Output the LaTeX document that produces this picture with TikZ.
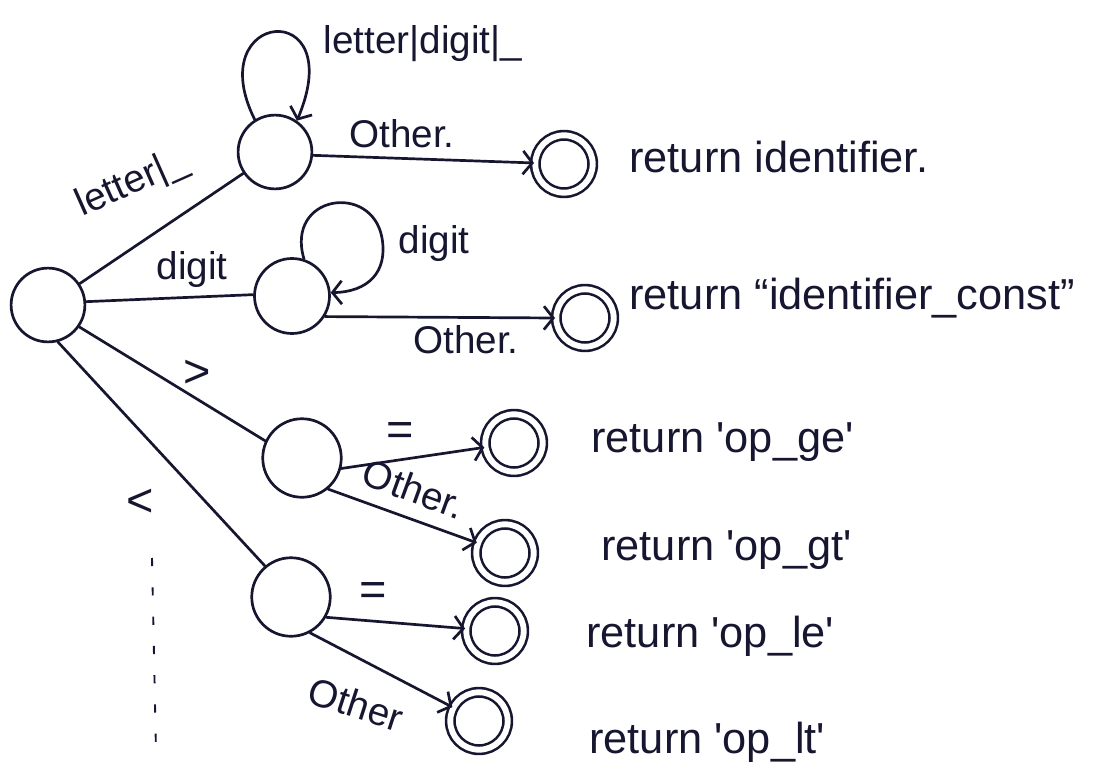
\documentclass[tikz,border=0pt]{standalone}
\usepackage{fontspec}
\setmainfont{Liberation Sans}
\usetikzlibrary{arrows.meta}
\definecolor{ink}{RGB}{22,22,48}
\newcommand{\sq}{\textquotesingle}
\begin{document}
\begin{tikzpicture}[
  x=0.8535pt, y=-0.8535pt,
  line width=2.3pt, draw=ink, text=ink,
  every node/.style={font=\fontsize{33}{38}\selectfont},
  state/.style={circle, draw=ink, line width=2.3pt, inner sep=0pt},
  accept/.style={circle, draw=ink, line width=2.2pt, double=white,
                 double distance=5pt, inner sep=0pt, minimum size=49pt},
  tr/.style={-{Straight Barb[length=8pt,width=20pt]}, line cap=round},
  edge/.style={line cap=round},
  lbl/.style={inner sep=1pt},
  sym/.style={inner sep=1pt, font=\fontsize{40}{44}\selectfont},
  ret/.style={anchor=west, inner sep=0pt, font=\fontsize{37}{42}\selectfont}
]
\useasboundingbox (0,0) rectangle (1119,778);

% states
\node[state, minimum size=63pt] (s0) at (48,305) {};
\node[state, minimum size=63pt] (s1) at (275,152) {};
\node[state, minimum size=64pt] (s2) at (292,296) {};
\node[state, minimum size=67pt] (s3) at (302,458) {};
\node[state, minimum size=67pt] (s4) at (291,597) {};

% accepting states
\node[accept] (f1) at (564,164) {};
\node[accept] (f2) at (585,318) {};
\node[accept] (f3) at (514,443) {};
\node[accept] (f4) at (505,553) {};
\node[accept] (f5) at (495,631) {};
\node[accept] (f6) at (479,721) {};

% transitions out of the start state
\draw[edge] (s0) -- (s1);
\draw[edge] (s0.5) -- (s2.178);
\draw[edge] (s0.-35) -- (s3.155);
\draw[edge] (s0.-75) -- (s4.130);

% identifier branch
\draw[tr] (s1.122) .. controls (200,10) and (350,-5) .. (s1.55);
\draw[tr] (s1.-5) -- (f1);

% number branch
\draw[tr] (s2.72) .. controls (285,195) and (372,182) .. (382,238)
          .. controls (388,272) and (368,292) .. (s2.5);
\draw[tr] (s2.-32) -- (f2.180);

% relational operators
\draw[tr] (s3.-15) -- (f3);
\draw[tr] (s3.-50) -- (f4);
\draw[tr] (s4.-30) -- (f5);
\draw[tr] (s4.-62) -- (f6);

% edge labels
\node[lbl] (lloop1) at (423,44) {letter|digit|\_};
\node[lbl] (lother1) at (402,134) {Other.};
\node[lbl, rotate=24] (lletter) at (132,184) {letter|\_};
\node[lbl] (ldigit) at (192,270) {digit};
\node[lbl] (lloop2) at (434,244) {digit};
\node[lbl] (lother2) at (466,340) {Other.};
\node[sym] (lgt) at (197,374) {>};
\node[sym] (llt) at (140,503) {<};
\node[sym] (leq1) at (400,434) {=};
\node[lbl, rotate=-20] (lother3) at (414,489) {Other.};
\node[sym] (leq2) at (373,594) {=};
\node[lbl, rotate=-18] (lother4) at (356,704) {Other};

% returned tokens
\node[ret] (r1) at (628,157) {return identifier.};
\node[ret] (r2) at (628,298) {return ``identifier\_const''};
\node[ret] (r3) at (590,442) {return \sq op\_ge\sq};
\node[ret] (r4) at (600,550) {return \sq op\_gt\sq};
\node[ret] (r5) at (585,636) {return \sq op\_le\sq};
\node[ret] (r6) at (588,742) {return \sq op\_lt\sq};

% faint marks down the left margin
\draw[line width=1.6pt, dash pattern=on 7pt off 18pt] (152,558) -- (156,752);
\end{tikzpicture}
\end{document}
